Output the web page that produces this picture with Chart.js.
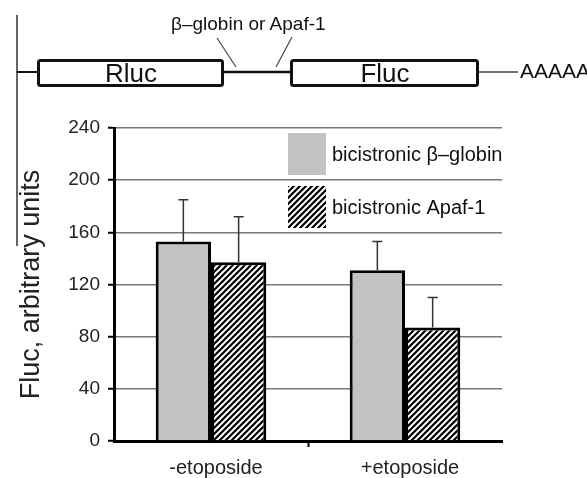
<!DOCTYPE html>
<html>
<head>
<meta charset="utf-8">
<script src="https://cdn.jsdelivr.net/npm/chart.js@4.4.1/dist/chart.umd.min.js"></script>
<style>
  html, body { margin: 0; padding: 0; background: #fff; }
  #wrap { position: relative; width: 587px; height: 478px; overflow: hidden; }
  #chart { position: absolute; left: 0; top: 0; }
  #construct { position: absolute; left: 0; top: 0; pointer-events: none; }
  #construct text { font-family: "Liberation Sans", Arial, sans-serif; fill: #111; }
</style>
</head>
<body>
<div id="wrap">
  <canvas id="chart" width="587" height="478"></canvas>
  <svg id="construct" width="587" height="478">
    <line x1="17" y1="15" x2="17" y2="246" stroke="#333" stroke-width="1.5"/>
    <line x1="17" y1="72" x2="37" y2="72" stroke="#111" stroke-width="2"/>
    <rect x="38.5" y="60.5" width="184" height="25" rx="2" fill="#fff" stroke="#111" stroke-width="3"/>
    <text x="131" y="82" font-size="26" text-anchor="middle">Rluc</text>
    <line x1="223" y1="72" x2="290" y2="72" stroke="#111" stroke-width="2.5"/>
    <rect x="291.5" y="60.5" width="186" height="25" rx="2" fill="#fff" stroke="#111" stroke-width="3"/>
    <text x="385" y="82" font-size="26" text-anchor="middle">Fluc</text>
    <line x1="479" y1="72" x2="518" y2="72" stroke="#444" stroke-width="1.5"/>
    <text x="520" y="78" font-size="21">AAAAA</text>
    <text x="171" y="30" font-size="19">β–globin or Apaf-1</text>
    <line x1="217" y1="38" x2="236" y2="67" stroke="#444" stroke-width="1.2"/>
    <line x1="292" y1="37" x2="276" y2="67" stroke="#444" stroke-width="1.2"/>
  </svg>
</div>
<script>
const categories = ["-etoposide", "+etoposide"];
const seriesNames = ["bicistronic β–globin", "bicistronic Apaf-1"];
const globinValues = [153, 131];
const globinErrors = [32, 22];
const apafValues = [137, 87];
const apafErrors = [35, 23];
const yTicks = [0, 40, 80, 120, 160, 200, 240];

const FONT = "'Liberation Sans', Arial, sans-serif";

// diagonal hatch for the Apaf-1 bars
function hatch() {
  const c = document.createElement("canvas");
  c.width = 6; c.height = 6;
  const g = c.getContext("2d");
  g.fillStyle = "#fff";
  g.fillRect(0, 0, 6, 6);
  g.strokeStyle = "#000";
  g.lineWidth = 2.2;
  g.beginPath();
  g.moveTo(-1, 7); g.lineTo(7, -1);
  g.moveTo(-4, 4); g.lineTo(4, -4);
  g.moveTo(2, 10); g.lineTo(10, 2);
  g.stroke();
  return document.getElementById("chart").getContext("2d").createPattern(c, "repeat");
}

const errorBars = {
  id: "errorBars",
  afterDatasetsDraw(chart) {
    const { ctx, scales: { y } } = chart;
    ctx.save();
    ctx.strokeStyle = "#333";
    ctx.lineWidth = 1.5;
    chart.data.datasets.forEach((ds, i) => {
      chart.getDatasetMeta(i).data.forEach((bar, j) => {
        const top = y.getPixelForValue(ds.data[j] + ds.errors[j]);
        ctx.beginPath();
        ctx.moveTo(bar.x, bar.y);
        ctx.lineTo(bar.x, top);
        ctx.moveTo(bar.x - 5, top);
        ctx.lineTo(bar.x + 5, top);
        ctx.stroke();
      });
    });
    ctx.restore();
  },
};

const boxLegend = {
  id: "boxLegend",
  afterDraw(chart) {
    const { ctx } = chart;
    ctx.save();
    ctx.font = "20px " + FONT;
    ctx.textBaseline = "middle";
    chart.data.datasets.forEach((ds, i) => {
      const top = 133 + i * 53;
      ctx.fillStyle = ds.backgroundColor;
      ctx.fillRect(288, top, 38, 42);
      ctx.fillStyle = "#111";
      ctx.fillText(ds.label, 332, top + 22);
    });
    ctx.restore();
  },
};

new Chart(document.getElementById("chart"), {
  type: "bar",
  data: {
    labels: categories,
    datasets: [
      { label: seriesNames[0], data: globinValues, errors: globinErrors, backgroundColor: "#c3c3c3" },
      { label: seriesNames[1], data: apafValues, errors: apafErrors, backgroundColor: hatch() },
    ],
  },
  options: {
    responsive: false,
    animation: false,
    events: [],
    layout: { padding: { left: 0, top: 128, right: 85, bottom: 0 } },
    datasets: {
      bar: { borderColor: "#000", borderWidth: 3, barPercentage: 1, categoryPercentage: 0.57 },
    },
    plugins: { legend: { display: false }, tooltip: { enabled: false } },
    scales: {
      x: {
        afterFit: (s) => { s.height = 37; },
        border: { color: "#000", width: 3 },
        grid: {
          offset: true,
          drawOnChartArea: false,
          tickLength: 6,
          tickWidth: 2,
          tickColor: (c) => (c.index === 1 ? "#000" : "rgba(0,0,0,0)"),
        },
        ticks: { color: "#222", font: { family: FONT, size: 20 }, padding: 9, labelOffset: 5 },
      },
      y: {
        min: yTicks[0],
        max: yTicks[yTicks.length - 1],
        afterFit: (s) => { s.width = 114; },
        border: { color: "#000", width: 3 },
        grid: { color: "#777", lineWidth: 1.5, tickLength: 6, tickColor: "#000", tickWidth: 2 },
        ticks: { stepSize: yTicks[1] - yTicks[0], color: "#222", font: { family: FONT, size: 19 }, padding: 8 },
        title: {
          display: true,
          text: "Fluc, arbitrary units",
          color: "#222",
          font: { family: FONT, size: 27 },
          padding: { top: 15, bottom: 0 },
        },
      },
    },
  },
  plugins: [errorBars, boxLegend],
});
</script>
</body>
</html>
